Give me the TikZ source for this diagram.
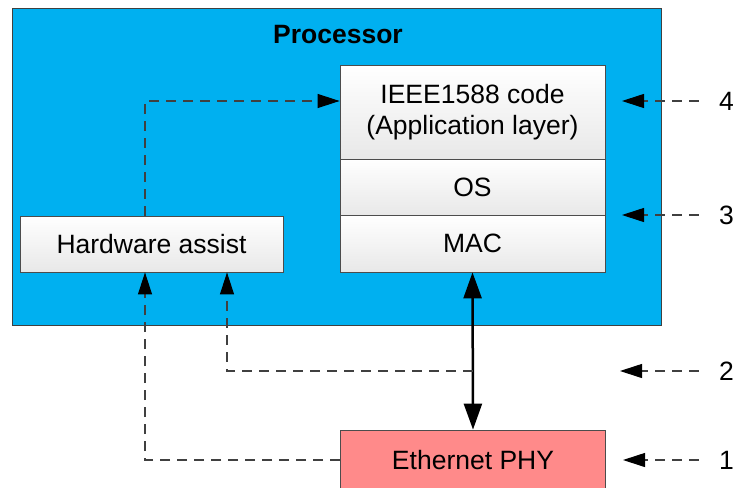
\documentclass[tikz,border=0pt]{standalone}
\usepackage{fontspec}
\setmainfont{Liberation Sans}
\usepackage{xcolor}
\usepackage{tikz}
\usetikzlibrary{positioning, arrows.meta}

\definecolor{procblue}{RGB}{0,176,240}
\definecolor{phyred}{RGB}{255,138,138}

\tikzset{
    layer/.style={draw=black!70, line width=0.8pt, top color=white, bottom color=black!9, minimum width=265pt, inner sep=0pt, align=center, font=\fontsize{26.5}{31}\selectfont},
    dashline/.style={draw=black!75, line width=1.1pt, dash pattern=on 10pt off 7pt},
    tip/.style={-{Triangle[length=22pt,width=14pt,color=black]}},
    digit/.style={inner sep=0pt, anchor=east, font=\fontsize{26.5}{31}\selectfont},
}

\begin{document}
\begin{tikzpicture}[x=1pt, y=-1pt]
                \useasboundingbox (0,0) rectangle (735,487);
                \node[draw=black!75, line width=0.8pt, fill=procblue, minimum width=649pt, minimum height=317pt] (proc) at (336.5, 166.5) {};
                \node[font=\fontsize{26.5}{31}\selectfont\bfseries] (title) at (338, 35) {Processor};
                \node[layer, minimum height=94pt] (app) at (472.5, 112) {IEEE1588 code\\(Application layer)};
                \node[layer, minimum height=56pt] (os) at (472.5, 187) {OS};
                \node[layer, minimum height=57pt] (mac) at (472.5, 243.5) {MAC};
                \node[layer, minimum width=263pt, minimum height=56pt] (hw) at (151.5, 244) {Hardware assist};
                \node[draw=black!70, line width=0.8pt, fill=phyred, minimum width=265pt, minimum height=60pt, font=\fontsize{26.5}{31}\selectfont] (phy) at (473, 460) {Ethernet PHY};

                \node[digit] (l4) at (734, 101) {4};
                \node[digit] (l3) at (734, 215) {3};
                \node[digit] (l2) at (734, 371) {2};
                \node[digit] (l1) at (734, 460) {1};
                \coordinate (t4) at (622, 101);
                \coordinate (t3) at (622, 215);
                \coordinate (t2) at (620, 371);
                \coordinate (t1) at (623, 460);
                \coordinate (j2) at (472.5, 371);

                \draw[line width=2.5pt, {Triangle[length=26pt,width=18pt]}-{Triangle[length=26pt,width=18pt]}] (mac.south) -- (phy.north);
                \draw[dashline, tip] ([xshift=-6.5pt]hw.north) |- ([yshift=11pt]app.west);
                \draw[dashline, tip] (phy.west) -| ([xshift=-6.5pt]hw.south);
                \draw[dashline, tip] (j2) -| ([xshift=75.5pt]hw.south);
                \draw[dashline, tip, shorten <=20pt] (l4.west) -- (t4);
                \draw[dashline, tip, shorten <=20pt] (l3.west) -- (t3);
                \draw[dashline, tip, shorten <=20pt] (l2.west) -- (t2);
                \draw[dashline, tip, shorten <=20pt] (l1.west) -- (t1);
            \end{tikzpicture}
\end{document}
